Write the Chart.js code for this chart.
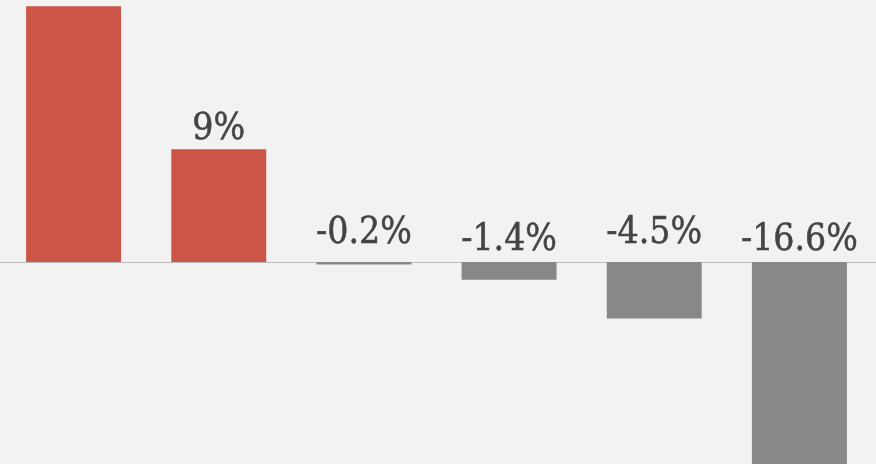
<!DOCTYPE html>
<html>
<head>
<meta charset="utf-8">
<script src="https://cdn.jsdelivr.net/npm/chart.js@4"></script>
<style>
  html, body { margin: 0; padding: 0; background: #f2f2f2; }
  #wrap { width: 876px; height: 464px; position: relative; }
</style>
</head>
<body>
<div id="wrap"><canvas id="c" width="876" height="464"></canvas></div>
<script>
const categories = ['1', '2', '3', '4', '5', '6'];
const values = [20.4, 9, -0.2, -1.4, -4.5, -16.6];
const yMin = -16.1;
const yMax = 20.9;

const RED = '#cb5546';
const GRAY = '#888888';

const zeroLine = {
  id: 'zeroLine',
  beforeDatasetsDraw(chart) {
    const { ctx, scales: { y } } = chart;
    const py = Math.round(y.getPixelForValue(0)) + 0.5;
    ctx.save();
    ctx.strokeStyle = '#bcbcbc';
    ctx.lineWidth = 1;
    ctx.beginPath();
    ctx.moveTo(0, py);
    ctx.lineTo(chart.width, py);
    ctx.stroke();
    ctx.restore();
  }
};

const valueLabels = {
  id: 'valueLabels',
  afterDatasetsDraw(chart) {
    const { ctx, scales: { y } } = chart;
    const meta = chart.getDatasetMeta(0);
    const zero = y.getPixelForValue(0);
    ctx.save();
    ctx.font = '37px "DejaVu Serif Condensed", "DejaVu Serif", serif';
    ctx.fillStyle = '#444444';
    ctx.strokeStyle = '#444444';
    ctx.lineWidth = 0.5;
    ctx.textAlign = 'center';
    ctx.textBaseline = 'alphabetic';
    meta.data.forEach((bar, i) => {
      const v = values[i];
      let by;
      if (v >= 0) {
        by = bar.y - 10;
      } else {
        by = zero - (i % 2 === 0 ? 19 : 12);
      }
      const t = v + '%';
      ctx.fillText(t, bar.x, by);
      ctx.strokeText(t, bar.x, by);
    });
    ctx.restore();
  }
};

new Chart(document.getElementById('c'), {
  type: 'bar',
  data: {
    labels: categories,
    datasets: [{
      data: values,
      backgroundColor: values.map(v => v >= 0 ? RED : GRAY),
      borderWidth: 0,
      barPercentage: 0.654,
      categoryPercentage: 1
    }]
  },
  options: {
    responsive: false,
    animation: false,
    layout: { padding: { left: 1, right: 4, top: 0, bottom: 0 } },
    plugins: { legend: { display: false }, tooltip: { enabled: false } },
    scales: {
      x: { display: false },
      y: { display: false, min: yMin, max: yMax }
    }
  },
  plugins: [zeroLine, valueLabels]
});
</script>
</body>
</html>
